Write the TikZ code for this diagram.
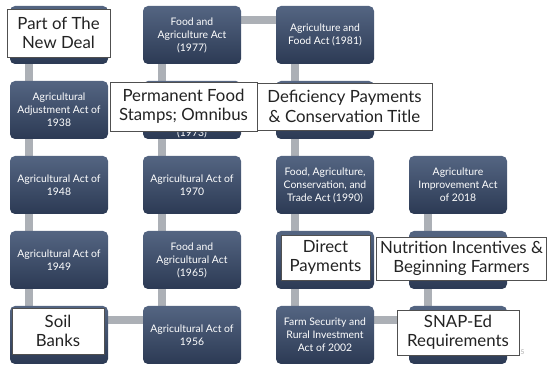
\documentclass[tikz,border=0pt]{standalone}
\usepackage{fontspec}
\setmainfont{Lato}
\definecolor{boxtop}{RGB}{84,101,130}
\definecolor{boxbot}{RGB}{44,58,84}
\definecolor{connc}{RGB}{172,176,182}
\definecolor{callborder}{RGB}{80,80,80}
\definecolor{calltext}{RGB}{35,35,35}
\pgfdeclarelayer{bg}
\pgfsetlayers{bg,main}
\begin{document}
\begin{tikzpicture}[x=1pt,y=-1pt,
  actbox/.style={rounded corners=5pt, top color=boxtop, bottom color=boxbot, draw=none,
    minimum width=98pt, minimum height=58pt, inner sep=1pt, text=white, align=center,
    font=\fontsize{10.4}{13}\selectfont},
  conn/.style={draw=connc, line width=7.5pt},
  callout/.style={draw=callborder, fill=white, line width=0.8pt, inner sep=0pt,
    align=center, text=calltext, font=\fontsize{16.8}{19.5}\selectfont},
]
\useasboundingbox (0,0) rectangle (547,366);
% act boxes (centres)
\node[actbox] (b11) at (59,35) {};
\node[actbox] (b12) at (59,110) {Agricultural\\Adjustment Act of\\1938};
\node[actbox] (b13) at (59,185) {Agricultural Act of\\1948};
\node[actbox] (b14) at (59,260) {Agricultural Act of\\1949};
\node[actbox] (b15) at (59,335) {};
\node[actbox] (b25) at (192,335) {Agricultural Act of\\1956};
\node[actbox] (b24) at (192,260) {Food and\\Agricultural Act\\(1965)};
\node[actbox] (b23) at (192,185) {Agricultural Act of\\1970};
\node[actbox] (b22) at (192,110) {};
\node[text=white, font=\fontsize{10.4}{13}\selectfont] (t22) at (192,133) {(1973)};
\node[actbox] (b21) at (192,35) {Food and\\Agriculture Act\\(1977)};
\node[actbox] (b31) at (325,35) {Agriculture and\\Food Act (1981)};
\node[actbox] (b32) at (325,110) {};
\node[actbox] (b33) at (325,185) {Food, Agriculture,\\Conservation, and\\Trade Act (1990)};
\node[actbox] (b34) at (325,260) {};
\node[actbox] (b35) at (325,335) {Farm Security and\\Rural Investment\\Act of 2002};
\node[actbox] (b45) at (458,335) {};
\node[actbox] (b44) at (458,260) {};
\node[actbox] (b43) at (458,185) {Agriculture\\Improvement Act\\of 2018};
% connectors behind boxes
\begin{pgfonlayer}{bg}
\draw[conn] ([xshift=19pt]b11.west) -- ([xshift=19pt]b15.west);
\draw[conn] ([xshift=19pt,yshift=15pt]b15.west) -- ([xshift=19pt,yshift=15pt]b25.west);
\draw[conn] ([xshift=19pt]b25.west) -- ([xshift=19pt]b21.west);
\draw[conn] ([xshift=19pt,yshift=15pt]b21.west) -- ([xshift=19pt,yshift=15pt]b31.west);
\draw[conn] ([xshift=19pt]b31.west) -- ([xshift=19pt]b35.west);
\draw[conn] ([xshift=19pt,yshift=15pt]b35.west) -- ([xshift=19pt,yshift=15pt]b45.west);
\draw[conn] ([xshift=19pt]b45.west) -- ([xshift=19pt]b43.west);
\end{pgfonlayer}
% page number
\node[text=gray!70, font=\fontsize{6.5}{7}\selectfont, anchor=base east] (pg) at (528,355) {15};
% callouts
\node[callout, minimum width=103pt, minimum height=48pt] (c1) at (58.5,33) {Part of The\\New Deal};
\node[callout, minimum width=147pt, minimum height=49pt] (c2) at (183.5,106.5) {Permanent Food\\Stamps; Omnibus};
\node[callout, minimum width=175pt, minimum height=47pt] (c3) at (344.5,106.5) {Deficiency Payments\\\& Conservation Title};
\node[callout, minimum width=92pt, minimum height=46pt] (c4) at (58,331) {Soil\\Banks};
\node[callout, minimum width=89pt, minimum height=45pt] (c5) at (325.5,257.5) {Direct\\Payments};
\node[callout, minimum width=170pt, minimum height=43pt] (c6) at (461.5,258.5) {Nutrition Incentives \&\\Beginning Farmers};
\node[callout, minimum width=122pt, minimum height=45pt] (c7) at (458,332.5) {SNAP-Ed\\Requirements};
\end{tikzpicture}
\end{document}
